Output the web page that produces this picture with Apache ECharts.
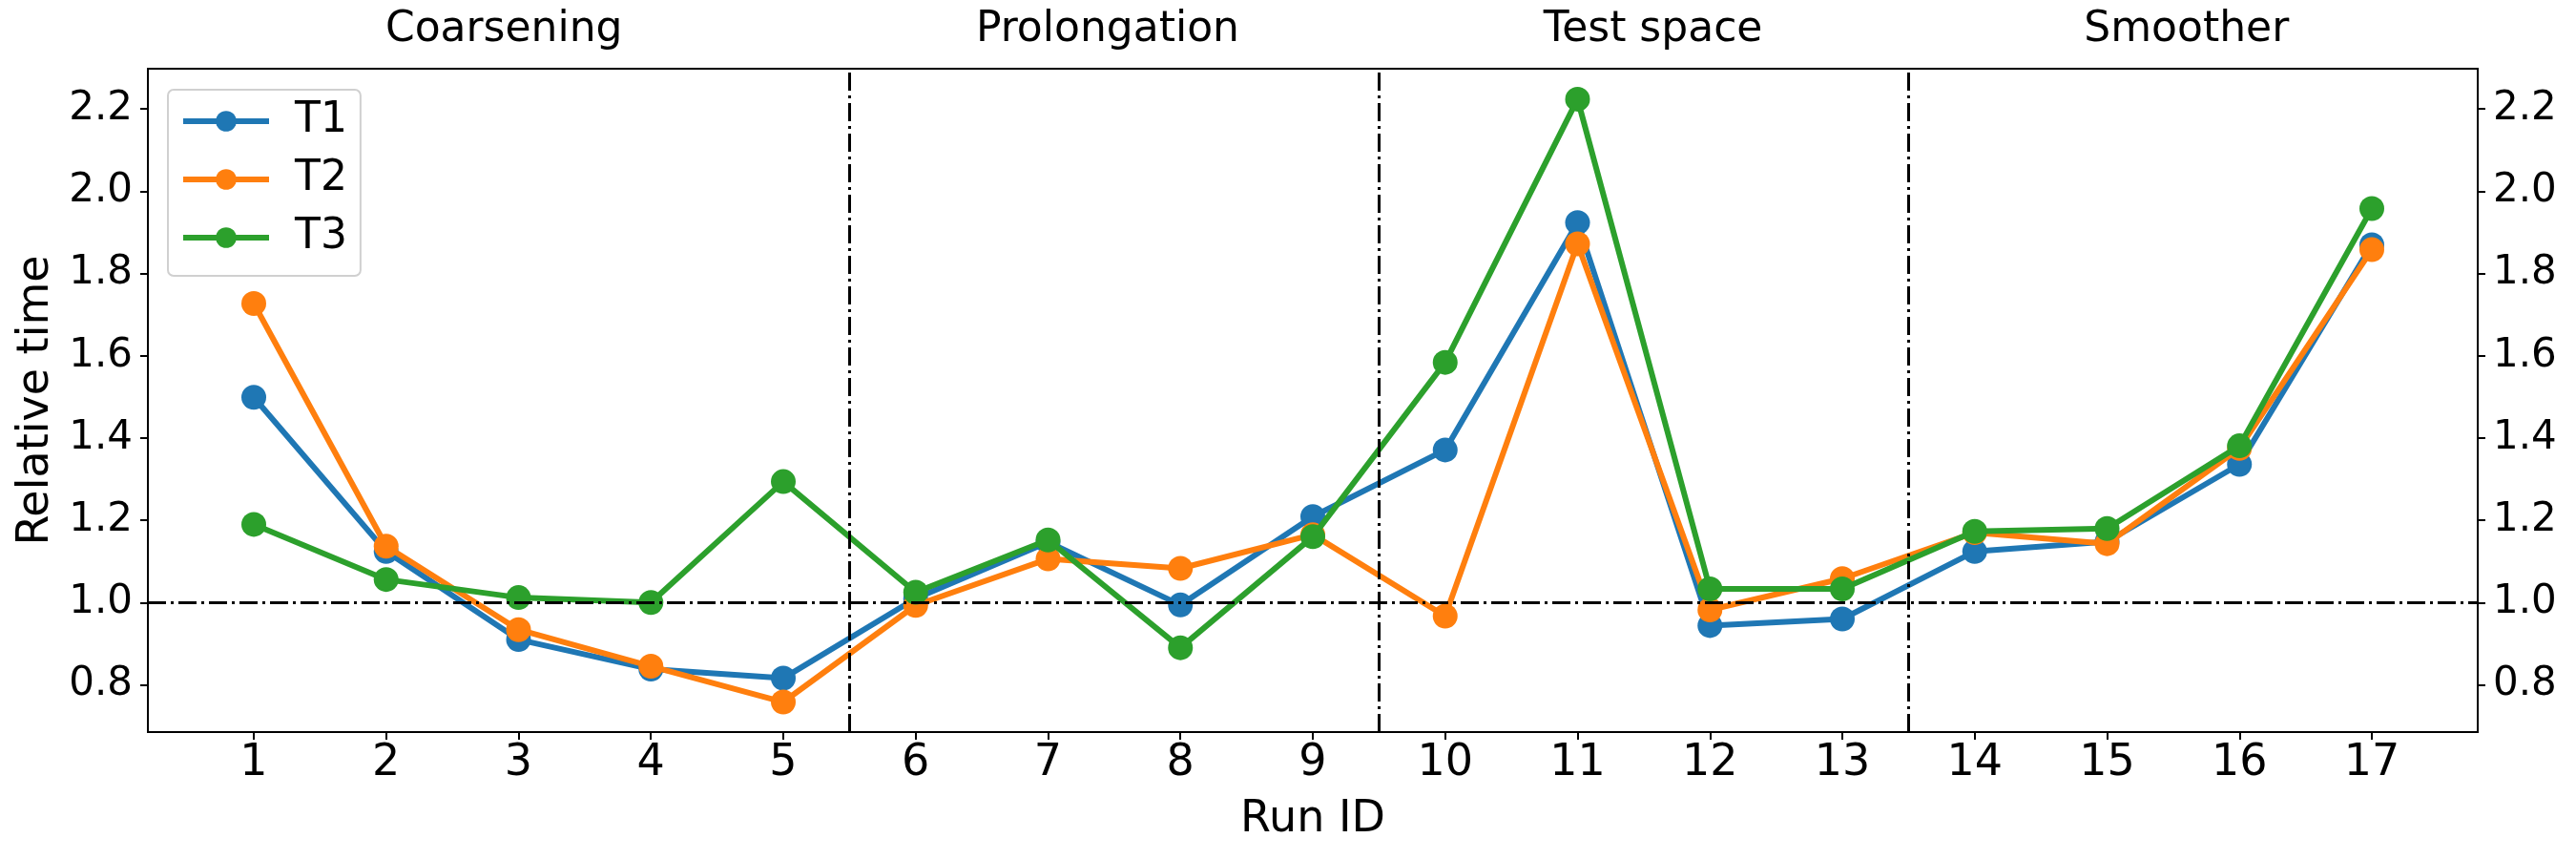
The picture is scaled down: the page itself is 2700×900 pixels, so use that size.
<!DOCTYPE html>
<html>
<head>
<meta charset="utf-8">
<script src="https://cdn.jsdelivr.net/npm/echarts@6/dist/echarts.min.js"></script>
<style>
html,body{margin:0;padding:0;background:#fff;}
#chart{width:2700px;height:900px;}
</style>
</head>
<body>
<div id="chart"></div>
<script>
// ---- data ----
const runIds = [1,2,3,4,5,6,7,8,9,10,11,12,13,14,15,16,17];
const seriesNames = ['T1','T2','T3'];
const t1 = [1.499,1.124,0.910,0.838,0.816,1.010,1.147,0.994,1.209,1.371,1.924,0.944,0.960,1.124,1.148,1.336,1.870];
const t2 = [1.727,1.137,0.934,0.845,0.758,0.993,1.106,1.083,1.165,0.967,1.872,0.982,1.058,1.170,1.143,1.375,1.858];
const t3 = [1.190,1.056,1.012,1.000,1.294,1.025,1.152,0.890,1.160,1.584,2.224,1.033,1.033,1.173,1.180,1.381,1.958];
const yTicks = [0.8,1.0,1.2,1.4,1.6,1.8,2.0,2.2];
const sectionNames = ['Coarsening','Prolongation','Test space','Smoother'];
const sectionCenters = [2.89,7.45,11.57,15.6];
const sectionBounds = [5.5,9.5,13.5];
const referenceLevel = 1.0;

const FONT = 'DejaVu Sans';
const colors = ['#1f77b4','#ff7f0e','#2ca02c'];
const values = [t1,t2,t3];
const dashDot = [19,5,3,5];

const chart = echarts.init(document.getElementById('chart'), null, {renderer:'canvas'});

function yAxisCfg(pos){
  return {
    type:'value', position:pos, min:0.685, max:2.298,
    axisLine:{show:true, lineStyle:{color:'#000', width:2}},
    axisTick:{show:true, customValues:yTicks, length:8, lineStyle:{color:'#000', width:2}},
    axisLabel:{customValues:yTicks, fontSize:42, fontFamily:FONT, color:'#000', margin:16,
      formatter:v=>Number(v).toFixed(1)},
    splitLine:{show:false}
  };
}

const leftY = yAxisCfg('left');
leftY.name = 'Relative time';
leftY.nameLocation = 'middle';
leftY.nameGap = 88;
leftY.nameRotate = 90;
leftY.nameTextStyle = {fontSize:46, fontFamily:FONT, color:'#000'};
const rightY = yAxisCfg('right');

const series = seriesNames.map((n,i)=>({
  name:n, type:'line', xAxisIndex:0, yAxisIndex:0,
  data: runIds.map((x,k)=>[x, values[i][k]]),
  symbol:'circle', symbolSize:26, showSymbol:true,
  lineStyle:{width:6, color:colors[i]},
  itemStyle:{color:colors[i]},
  z: 2 + i
}));

series.push({
  name:'refs', type:'line', data:[], xAxisIndex:0, yAxisIndex:0, z:10, silent:true,
  markLine:{
    silent:true, symbol:['none','none'], animation:false,
    label:{show:false},
    lineStyle:{color:'#000', width:3, type:dashDot},
    data: [{yAxis:referenceLevel}].concat(sectionBounds.map(b=>({xAxis:b})))
  }
});

chart.setOption({
  animation:false,
  backgroundColor:'#fff',
  textStyle:{fontFamily:FONT},
  grid:{left:155, right:103, top:72, bottom:133, show:true, borderColor:'#000', borderWidth:2, backgroundColor:'transparent', containLabel:false},
  legend:{
    data:seriesNames, left:176, top:94, orient:'vertical',
    itemWidth:90, itemHeight:27, itemGap:17,
    padding:[11,14,18,13],
    backgroundColor:'rgba(255,255,255,0.85)',
    borderColor:'#d0d0d0', borderWidth:2, borderRadius:6,
    lineStyle:{width:6},
    textStyle:{fontSize:44, fontFamily:FONT, color:'#000', lineHeight:44, padding:[0,0,0,22]}
  },
  xAxis:{
    type:'value', min:0.2, max:17.8,
    axisLine:{show:true, lineStyle:{color:'#000', width:2}},
    axisTick:{show:true, customValues:runIds, length:8, lineStyle:{color:'#000', width:2}},
    axisLabel:{customValues:runIds, fontSize:46, fontFamily:FONT, color:'#000', margin:10,
      formatter:v=>String(Math.round(v))},
    splitLine:{show:false},
    name:'Run ID', nameLocation:'middle', nameGap:69,
    nameTextStyle:{fontSize:46, fontFamily:FONT, color:'#000'}
  },
  yAxis:[leftY, rightY],
  series:series
});

const graphics = sectionNames.map((s,i)=>({
  type:'text',
  x: chart.convertToPixel({xAxisIndex:0}, sectionCenters[i]),
  y: 32,
  style:{text:s, fontSize:44, fontFamily:FONT, fill:'#000', align:'center', verticalAlign:'middle'}
}));
chart.setOption({graphic:graphics});
</script>
</body>
</html>
